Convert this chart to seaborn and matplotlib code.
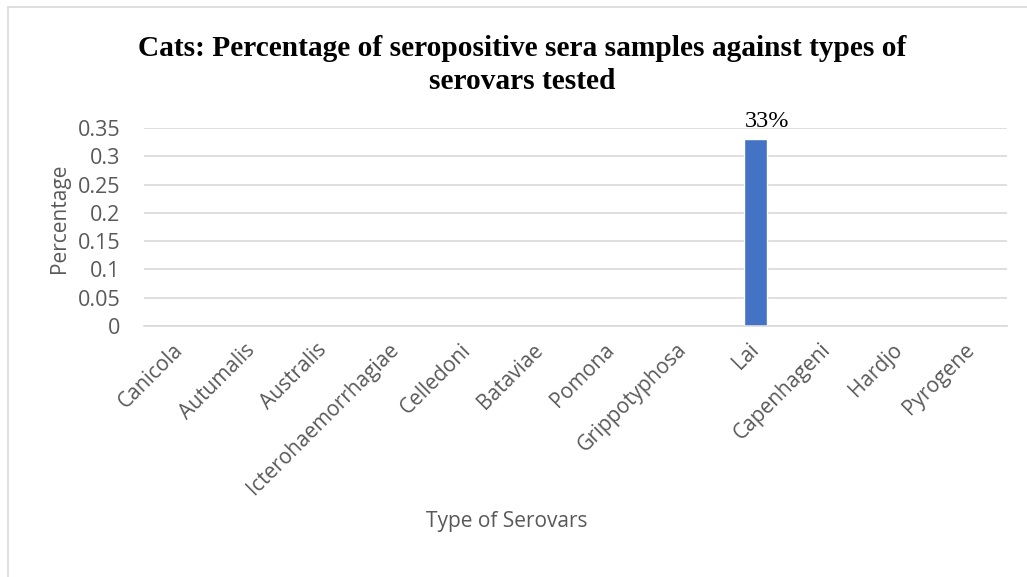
import matplotlib
matplotlib.use("Agg")
import matplotlib.pyplot as plt
from matplotlib.lines import Line2D
import seaborn as sns
import pandas as pd

# Serovars tested and share of seropositive cat sera for each
serovars = ["Canicola", "Autumalis", "Australis", "Icterohaemorrhagiae",
            "Celledoni", "Bataviae", "Pomona", "Grippotyphosa", "Lai",
            "Capenhageni", "Hardjo", "Pyrogene"]
percentages = [0, 0, 0, 0, 0, 0, 0, 0, 0.33, 0, 0, 0]
labelled = {"Lai": "33%"}
y_ticks = [0, 0.05, 0.1, 0.15, 0.2, 0.25, 0.3, 0.35]
y_tick_labels = ["0", "0.05", "0.1", "0.15", "0.2", "0.25", "0.3", "0.35"]

df = pd.DataFrame({"Serovar": serovars, "Percentage": percentages})

sns.set_theme(style="white")
plt.rcParams["font.family"] = ["Open Sans", "DejaVu Sans"]

W, H = 1027, 577
fig = plt.figure(figsize=(W / 100, H / 100), dpi=100)
fig.patch.set_facecolor("white")

# axes box in pixel terms
left, right, top, bottom = 144, 1007, 128, 326
ax = fig.add_axes([left / W, 1 - bottom / H, (right - left) / W, (bottom - top) / H])

sns.barplot(data=df, x="Serovar", y="Percentage", color="#4472C4",
            width=0.32, saturation=1, ax=ax)

grid_c = "#D9D9D9"
ax.set_ylim(0, 0.35)
ax.set_xlim(-0.5, len(serovars) - 0.5)
ax.set_yticks(y_ticks)
ax.set_yticklabels(y_tick_labels)
ax.yaxis.grid(True, color=grid_c, linewidth=1.2)
ax.set_axisbelow(True)
for side in ["left", "right", "top"]:
    ax.spines[side].set_visible(False)
ax.spines["bottom"].set_color(grid_c)
ax.spines["bottom"].set_linewidth(1.2)

text_c = "#595959"
ax.tick_params(axis="y", length=0, pad=17, labelsize=15.5, labelcolor=text_c)
ax.tick_params(axis="x", length=0, pad=15, labelsize=15, labelcolor=text_c)
for lab in ax.get_xticklabels():
    lab.set_rotation(45)
    lab.set_ha("right")
    lab.set_va("center")
    lab.set_rotation_mode("anchor")

ax.set_ylabel("Percentage", fontsize=15, color=text_c)
ax.yaxis.set_label_coords(-0.086, 0.545)
ax.set_xlabel("Type of Serovars", fontsize=15, color=text_c)
ax.xaxis.set_label_coords(0.4206, -0.935)

# value label above the positive bar
for i, (name, val) in enumerate(zip(serovars, percentages)):
    if name in labelled:
        ax.annotate(labelled[name], xy=(i, val), xytext=(12, 12),
                    textcoords="offset pixels", ha="center", va="baseline",
                    fontsize=17.5, family="Liberation Serif", color="black",
                    annotation_clip=False)

fig.text(522 / W, 1 - 35 / H,
         "Cats: Percentage of seropositive sera samples against types of\nserovars tested",
         ha="center", va="top", fontsize=21.2, fontweight="bold",
         family="Liberation Serif", color="black", linespacing=1.3)

# chart area outline (top and left edges)
fig.add_artist(Line2D([8 / W, 1], [1 - 7 / H, 1 - 7 / H], color=grid_c,
                      linewidth=1.2, transform=fig.transFigure))
fig.add_artist(Line2D([8 / W, 8 / W], [0, 1 - 7 / H], color=grid_c,
                      linewidth=1.2, transform=fig.transFigure))

fig.savefig("out.png", dpi=100, facecolor="white")
